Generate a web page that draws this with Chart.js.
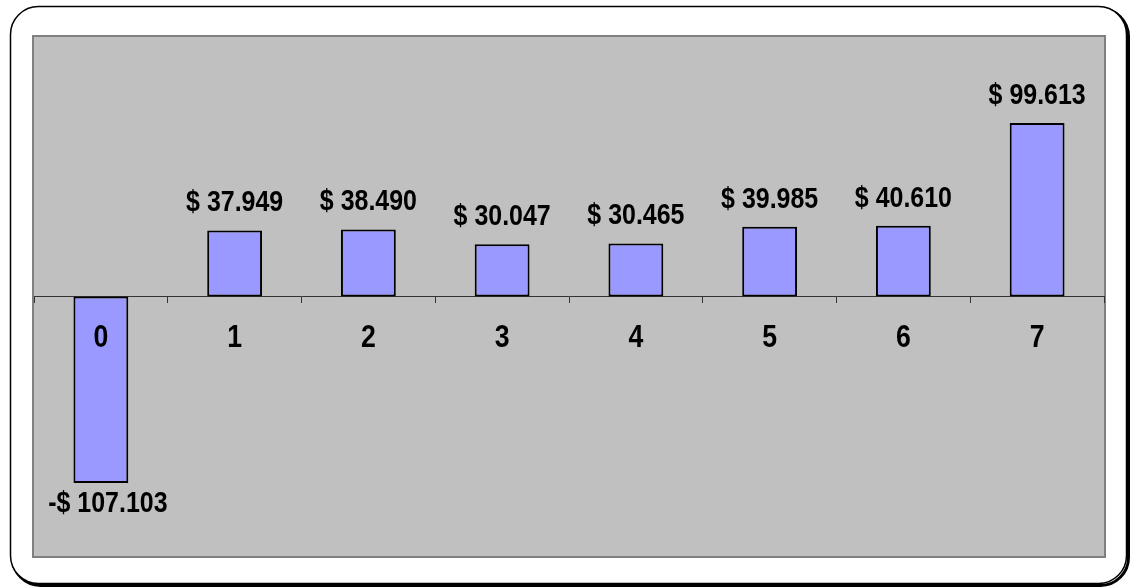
<!DOCTYPE html>
<html>
<head>
<meta charset="utf-8">
<script src="https://cdn.jsdelivr.net/npm/chart.js@4/dist/chart.umd.min.js"></script>
<style>
  html, body { margin: 0; padding: 0; background: #fff; }
  #wrap { width: 1131px; height: 587px; position: relative; }
</style>
</head>
<body>
<div id="wrap"><canvas id="myBar"></canvas></div>
<script>
// values
var periods = ['0', '1', '2', '3', '4', '5', '6', '7'];
var flows = [-107.103, 37.949, 38.490, 30.047, 30.465, 39.985, 40.610, 99.613];
var flowLabels = ['-$ 107.103', '$ 37.949', '$ 38.490', '$ 30.047', '$ 30.465', '$ 39.985', '$ 40.610', '$ 99.613'];

var font = "'Liberation Sans', Arial, sans-serif";

// draw text squeezed sideways, like a narrow font
function narrowText(c, txt, x, y, sx) {
  c.save();
  c.translate(x, y);
  c.scale(sx, 1);
  c.fillText(txt, 0, 0);
  c.restore();
}

// outer rounded frame + grey plot area + labels
var framePlugin = {
  id: 'frame',
  beforeDraw: function(chart) {
    var c = chart.ctx, a = chart.chartArea;
    c.save();
    c.fillStyle = '#fff';
    c.fillRect(0, 0, chart.width, chart.height);
    // shadow of frame
    c.beginPath();
    c.roundRect(12.5, 8.5, 1116, 577, 28);
    c.lineWidth = 3;
    c.strokeStyle = '#000';
    c.stroke();
    c.beginPath();
    c.roundRect(10.5, 6.5, 1116, 577, 28);
    c.fillStyle = '#fff';
    c.fill();
    c.lineWidth = 1.5;
    c.stroke();
    // plot area
    c.fillStyle = '#c0c0c0';
    c.fillRect(a.left, a.top, a.right - a.left, a.bottom - a.top);
    c.lineWidth = 2;
    c.strokeStyle = '#808080';
    c.strokeRect(a.left - 1, a.top - 1, a.right - a.left + 2, a.bottom - a.top + 2);
    c.restore();
  },
  afterDatasetsDraw: function(chart) {
    var c = chart.ctx;
    var meta = chart.getDatasetMeta(0);
    var xs = chart.scales.x, ys = chart.scales.y;
    var zero = ys.getPixelForValue(0);
    c.save();
    c.fillStyle = '#000';
    c.textAlign = 'center';
    c.textBaseline = 'alphabetic';
    // value labels
    c.font = 'bold 29px ' + font;
    meta.data.forEach(function(bar, i) {
      if (flows[i] >= 0) {
        narrowText(c, flowLabels[i], bar.x, bar.y - 19, 0.86);
      } else {
        narrowText(c, flowLabels[i], bar.x + 7, bar.y + 29, 0.86);
      }
    });
    // category labels on top of the bars
    c.font = 'bold 31px ' + font;
    periods.forEach(function(p, i) {
      narrowText(c, p, xs.getPixelForValue(i), zero + 50, 0.86);
    });
    c.restore();
  }
};

var ctx = document.getElementById('myBar').getContext('2d');
var myBar = new Chart(ctx, {
  type: 'bar',
  data: {
    labels: periods,
    datasets: [{
      data: flows,
      backgroundColor: '#9999ff',
      borderColor: '#000',
      borderWidth: 2,
      borderSkipped: false,
      barPercentage: 0.41,
      categoryPercentage: 1
    }]
  },
  options: {
    responsive: true,
    maintainAspectRatio: false,
    animation: false,
    layout: { padding: { left: 34, right: 27, top: 37, bottom: 31 } },
    plugins: {
      legend: { display: false },
      tooltip: { enabled: false }
    },
    scales: {
      x: {
        position: { y: 0 },
        offset: true,
        grid: {
          offset: true,
          drawOnChartArea: false,
          drawTicks: true,
          tickLength: 6,
          color: '#333'
        },
        border: { display: true, color: '#333', width: 1 },
        ticks: { display: false }
      },
      y: {
        display: false,
        min: -149,
        max: 149
      }
    }
  },
  plugins: [framePlugin]
});
</script>
</body>
</html>
